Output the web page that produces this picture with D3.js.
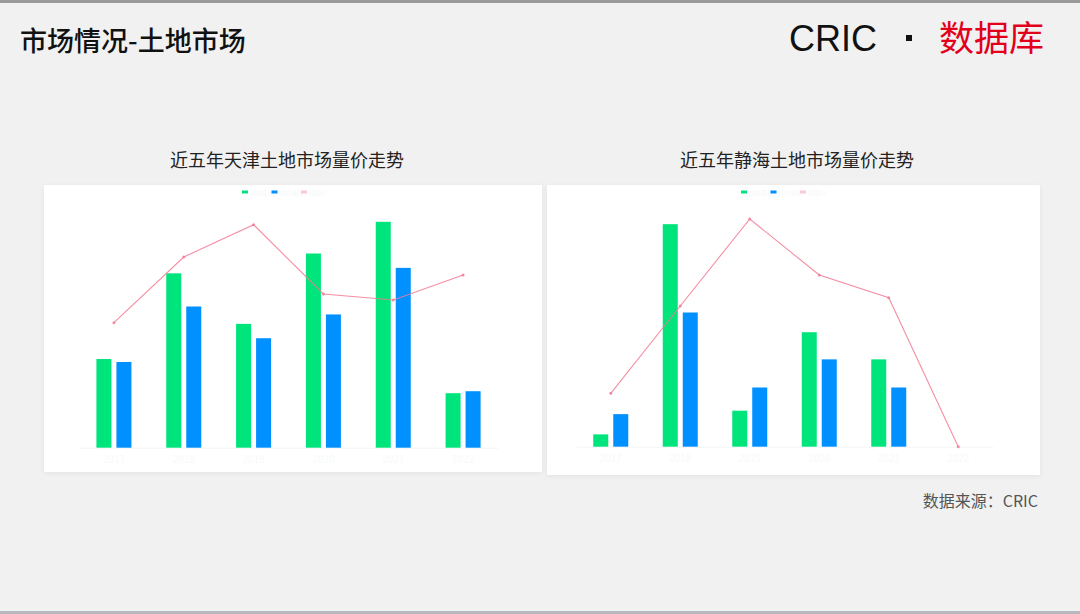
<!DOCTYPE html>
<html><head><meta charset="utf-8">
<script src="https://cdn.jsdelivr.net/npm/d3@7"></script>
<style>
html,body{margin:0;padding:0;background:#f1f1f1;}
svg{display:block;}
</style></head>
<body>
<svg id="c" width="1080" height="614"></svg>
<script>
// ---- data ----
const years = ["2017", "2018", "2019", "2020", "2021", "2022"];
const seriesNames = ["成交面积", "成交金额", "楼面价"];
const tianjinArea  = [179, 352, 250, 392, 456, 110];
const tianjinMoney = [173, 285, 221, 269, 363, 114];
const tianjinPrice = [5046, 7699, 9003, 6206, 5964, 6973];
const jinghaiArea  = [25, 451, 73, 232, 177, 0];
const jinghaiMoney = [66, 272, 120, 177, 120, 0];
const jinghaiPrice = [2165, 5703, 9230, 6960, 6040, 0];
const barDomain = [0, 500];
const priceDomain = [0, 10000];

const svg = d3.select("#c");
const FONT = "'Noto Sans CJK SC','Noto Sans',sans-serif";

// background & frame
svg.append("rect").attr("width",1080).attr("height",614).attr("fill","#f1f1f1");
svg.append("rect").attr("width",1080).attr("height",3).attr("fill","#9a9a9a");
svg.append("rect").attr("y",611).attr("width",1080).attr("height",3).attr("fill","#b8b8c0");

// header
svg.append("text").attr("x",20).attr("y",51).attr("font-family",FONT).attr("font-size",27)
  .attr("font-weight",500).attr("fill","#111").text("市场情况-土地市场");
svg.append("text").attr("x",789).attr("y",51).attr("font-family","'Liberation Sans',Arial,sans-serif")
  .attr("font-size",36).attr("fill","#111").text("CRIC");
svg.append("rect").attr("x",906).attr("y",35).attr("width",6).attr("height",6).attr("fill","#111");
svg.append("text").attr("x",939).attr("y",51).attr("font-family",FONT).attr("font-size",35)
  .attr("fill","#e2001a").text("数据库");

// source
svg.append("text").attr("x",1038).attr("y",507).attr("text-anchor","end").attr("font-family",FONT)
  .attr("font-size",16).attr("fill","#555").text("数据来源：CRIC");

const defs = svg.append("defs");
const f = defs.append("filter").attr("id","sh").attr("x","-5%").attr("y","-5%").attr("width","110%").attr("height","115%");
f.append("feDropShadow").attr("dx",0).attr("dy",1).attr("stdDeviation",2).attr("flood-color","#000").attr("flood-opacity",0.06);

const GREEN = "#00e47c", BLUE = "#0090ff", PINK = "#f27a93";

function panel(opt){
  const g = svg.append("g");
  g.append("text").attr("x",opt.titleX).attr("y",167).attr("text-anchor","middle")
    .attr("font-family",FONT).attr("font-size",18).attr("fill","#222").text(opt.title);
  g.append("rect").attr("x",opt.cx).attr("y",185).attr("width",opt.cw).attr("height",opt.ch)
    .attr("fill","#fff").attr("filter","url(#sh)");

  const x = d3.scaleBand().domain(years).range([opt.x0, opt.x1]).paddingInner(0).paddingOuter(0);
  const y = d3.scaleLinear().domain(barDomain).range([opt.base, 200]);
  const yp = d3.scaleLinear().domain(priceDomain).range([opt.base, 200]);
  const bw = 15, gap = 5;

  // faint baseline axis (washed out in the reference)
  const ax = g.append("g").attr("transform",`translate(0,${opt.base})`)
    .call(d3.axisBottom(x).tickSize(0).tickPadding(8));
  ax.select(".domain").attr("stroke","#f5f5f8");
  ax.selectAll("text").attr("fill","#f8f9fb").attr("font-size",10).attr("font-family",FONT);

  g.selectAll(".ga").data(opt.area).join("rect")
    .attr("x",(d,i)=>x(years[i]) + x.bandwidth()/2 - gap/2 - bw)
    .attr("y",d=>y(d)).attr("width",bw).attr("height",d=>y(0)-y(d)).attr("fill",GREEN);
  g.selectAll(".gb").data(opt.money).join("rect")
    .attr("x",(d,i)=>x(years[i]) + x.bandwidth()/2 + gap/2)
    .attr("y",d=>y(d)).attr("width",bw).attr("height",d=>y(0)-y(d)).attr("fill",BLUE);

  const line = d3.line().x((d,i)=>x(years[i]) + x.bandwidth()/2).y(d=>yp(d));
  g.append("path").datum(opt.price).attr("d",line).attr("fill","none")
    .attr("stroke",PINK).attr("stroke-width",1.1).attr("opacity",0.85);
  g.selectAll(".pt").data(opt.price).join("circle")
    .attr("cx",(d,i)=>x(years[i]) + x.bandwidth()/2).attr("cy",d=>yp(d)).attr("r",1.5)
    .attr("fill",PINK).attr("opacity",0.85);

  // legend (labels washed out)
  const cols = [GREEN, BLUE, "#f9c9d4"];
  seriesNames.forEach((n,i)=>{
    const lx = opt.legX + i*29.5;
    g.append("rect").attr("x",lx).attr("y",190.5).attr("width",6).attr("height",3).attr("fill",cols[i]);
    g.append("text").attr("x",lx+8).attr("y",194.5).attr("font-family",FONT).attr("font-size",6)
      .attr("fill","#f7f8fb").text(n);
  });
}

panel({title:"近五年天津土地市场量价走势", titleX:287, cx:44, cw:498, ch:287,
  x0:79, x1:498, base:447.7, legX:242,
  area:tianjinArea, money:tianjinMoney, price:tianjinPrice});
panel({title:"近五年静海土地市场量价走势", titleX:797, cx:547, cw:493, ch:290,
  x0:576, x1:993, base:446.7, legX:741,
  area:jinghaiArea, money:jinghaiMoney, price:jinghaiPrice});
</script>
</body></html>
